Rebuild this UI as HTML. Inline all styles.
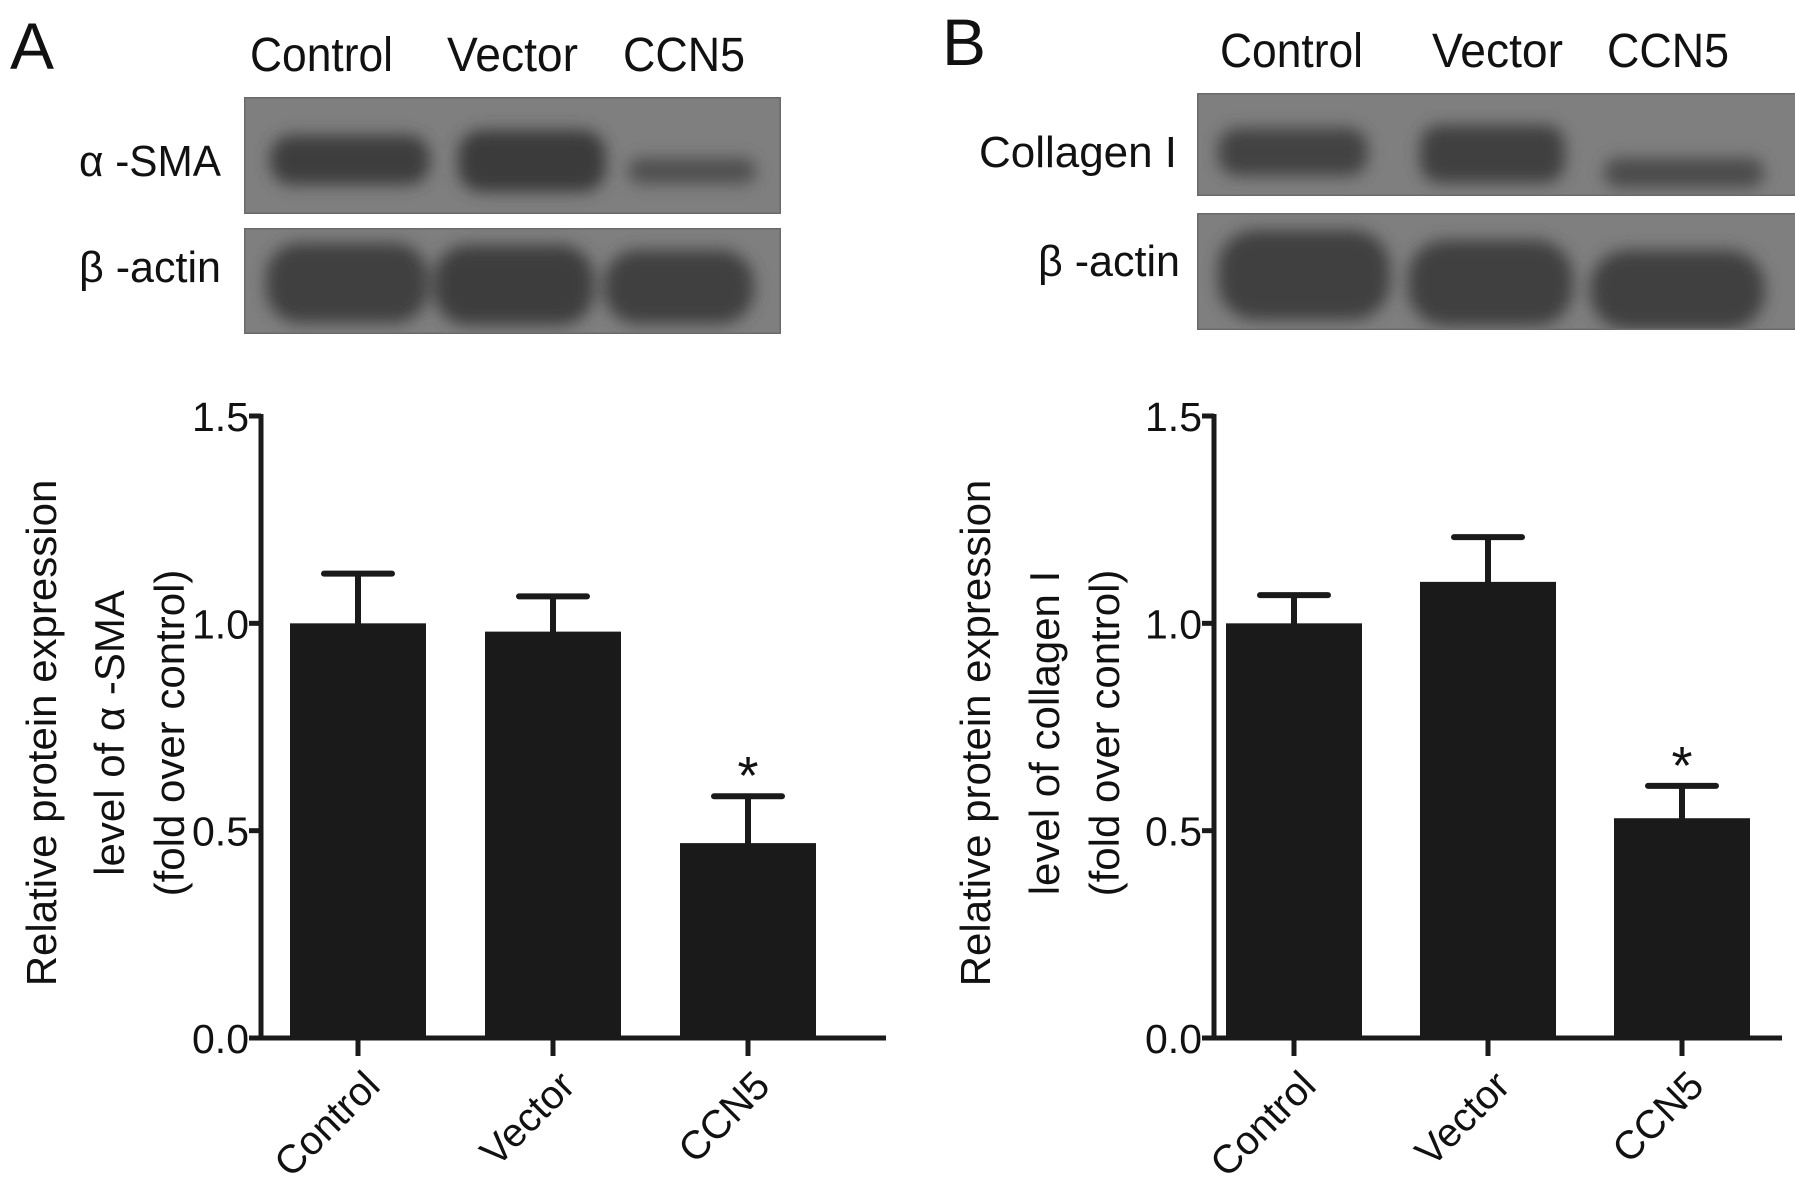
<!DOCTYPE html>
<html><head><meta charset="utf-8">
<style>
html,body{margin:0;padding:0;background:#fff;}
svg{display:block;font-family:"Liberation Sans",Arial,sans-serif;}
</style></head>
<body>
<svg id="fig" width="1795" height="1188" viewBox="0 0 1795 1188" xmlns="http://www.w3.org/2000/svg">
<defs>
<filter id="blur" x="-20%" y="-50%" width="140%" height="200%"><feGaussianBlur stdDeviation="8"/></filter>
<clipPath id="c1"><rect x="244" y="97" width="537" height="117"/></clipPath>
<clipPath id="c2"><rect x="244" y="228" width="537" height="106"/></clipPath>
<clipPath id="c3"><rect x="1197" y="93" width="600" height="103"/></clipPath>
<clipPath id="c4"><rect x="1197" y="213" width="600" height="117"/></clipPath>
</defs>
<g id="blots"></g>
<g id="chartA"></g>
<g id="chartB"></g>
</svg>
<script>
const categories = ["Control", "Vector", "CCN5"];
const valuesA = [1.0, 0.98, 0.47];
const errorsA = [0.12, 0.085, 0.113];
const sigA = [false, false, true];
const valuesB = [1.0, 1.10, 0.53];
const errorsB = [0.068, 0.108, 0.078];
const sigB = [false, false, true];
const yTicks = [0.0, 0.5, 1.0, 1.5];
const yTickLabels = ["0.0", "0.5", "1.0", "1.5"];

const NS = "http://www.w3.org/2000/svg";
function mk(tag, attrs, parent, text){
  const e = document.createElementNS(NS, tag);
  for (const k in attrs) e.setAttribute(k, attrs[k]);
  if (text !== undefined) e.textContent = text;
  parent.appendChild(e);
  return e;
}

function drawChart(g, cfg, values, errors, sig, titleLines, pfx){
  const y0 = 1038, y1 = 416, vmax = 1.5;
  const yScale = v => y0 - (v / vmax) * (y0 - y1);
  const band = cfg.bandW, barW = 136;
  const xCenter = i => cfg.axisX + cfg.firstCenter + i * band;
  values.forEach((v, i) => {
    const cx = xCenter(i);
    const r = mk("rect", {x: cx - barW/2, y: yScale(v), width: barW, height: y0 - yScale(v), fill: "#1a1a1a"}, g);
    
    
    const top = yScale(v + errors[i]);
    const eb = mk("path", {d: `M${cx} ${yScale(v)} V${top} M${cx-34} ${top} H${cx+34}`, stroke: "#1a1a1a", "stroke-width": 6, "stroke-linecap": "round", fill: "none"}, g);
    
    
    if (sig[i]) {
      const s = mk("text", {x: cx, y: top - 2, "text-anchor": "middle", "font-size": 54, fill: "#111"}, g, "*");
      
      
    }
    const tk = mk("line", {x1: cx, y1: y0, x2: cx, y2: 1056, stroke: "#1a1a1a", "stroke-width": 5}, g);
    
    
    const lx = cx + 24, ly = 1088;
    const t = mk("text", {x: lx, y: ly, "text-anchor": "end", "font-size": 40, fill: "#111", transform: `rotate(-45 ${lx} ${ly})`}, g, categories[i]);
    
    
  });
  const ya = mk("line", {x1: cfg.axisX, y1: y1 - 2, x2: cfg.axisX, y2: y0 + 2, stroke: "#1a1a1a", "stroke-width": 5}, g);
  
  
  const xa = mk("line", {x1: cfg.axisX - 2, y1: y0, x2: cfg.axisEnd, y2: y0, stroke: "#1a1a1a", "stroke-width": 5}, g);
  
  
  yTicks.forEach((v, i) => {
    const y = yScale(v);
    const tk = mk("line", {x1: cfg.axisX - 12, y1: y, x2: cfg.axisX, y2: y, stroke: "#1a1a1a", "stroke-width": 5}, g);
    
    
    const t = mk("text", {x: cfg.axisX - 12, y: y + 15, "text-anchor": "end", "font-size": 41, fill: "#111"}, g, yTickLabels[i]);
    
    
  });
  titleLines.forEach((line, i) => {
    const x = cfg.titleX[i], y = 733;
    const t = mk("text", {x: x, y: y, "text-anchor": "middle", "font-size": 42, fill: "#111", transform: `rotate(-90 ${x} ${y})`}, g, line);
    
    
  });
}

drawChart(document.getElementById("chartA"), {axisX: 261, axisEnd: 886, firstCenter: 97, bandW: 195, titleX: [56, 124, 184]},
  valuesA, errorsA, sigA, ["Relative protein expression", "level of α -SMA", "(fold over control)"], "a");
drawChart(document.getElementById("chartB"), {axisX: 1214, axisEnd: 1782, firstCenter: 80, bandW: 194, titleX: [990, 1059, 1119]},
  valuesB, errorsB, sigB, ["Relative protein expression", "level of collagen I", "(fold over control)"], "b");

const bl = document.getElementById("blots");
function txt(attrs, s, name){
  const t = mk("text", attrs, bl, s);
  
  
  return t;
}
function blot(x, y, w, h, clip, bands, name){
  const g = mk("g", {"clip-path": clip}, bl);
  
  
  mk("rect", {x: x, y: y, width: w, height: h, fill: "#7f7f7f"}, g);
  const inner = mk("g", {filter: "url(#blur)"}, g);
  bands.forEach(b => mk("rect", {x: b[0], y: b[1], width: b[2], height: b[3], rx: b[4], fill: b[5]}, inner));
  mk("rect", {x: x, y: y, width: w, height: h, fill: "none", stroke: "#6a6a6a", "stroke-width": 3}, g);
}
txt({x: 10, y: 69, "font-size": 66, fill: "#111"}, "A", "panel-label-a");
txt({x: 942, y: 65, "font-size": 66, fill: "#111"}, "B", "panel-label-b");
const lw = {Control: 143, Vector: 131, CCN5: 122};
[["Control", 250], ["Vector", 447], ["CCN5", 623]].forEach(a => txt({x: a[1], y: 71, "font-size": 48, fill: "#111", textLength: lw[a[0]], lengthAdjust: "spacingAndGlyphs"}, a[0], "lane-label-a-" + a[0].toLowerCase()));
[["Control", 1220], ["Vector", 1432], ["CCN5", 1607]].forEach(a => txt({x: a[1], y: 67, "font-size": 48, fill: "#111", textLength: lw[a[0]], lengthAdjust: "spacingAndGlyphs"}, a[0], "lane-label-b-" + a[0].toLowerCase()));
txt({x: 221, y: 176, "font-size": 44, "text-anchor": "end", fill: "#111", textLength: 142, lengthAdjust: "spacingAndGlyphs"}, "α -SMA", "blot-label-sma");
txt({x: 221, y: 282, "font-size": 44, "text-anchor": "end", fill: "#111", textLength: 142, lengthAdjust: "spacingAndGlyphs"}, "β -actin", "blot-label-actin-a");
txt({x: 1177, y: 167, "font-size": 44, "text-anchor": "end", fill: "#111", textLength: 198, lengthAdjust: "spacingAndGlyphs"}, "Collagen I", "blot-label-collagen");
txt({x: 1180, y: 276, "font-size": 44, "text-anchor": "end", fill: "#111", textLength: 142, lengthAdjust: "spacingAndGlyphs"}, "β -actin", "blot-label-actin-b");

blot(244, 97, 537, 117, "url(#c1)", [[270,135,160,50,22,"#3e3e3e"],[458,130,148,62,24,"#3b3b3b"],[628,158,128,26,12,"#505050"]], "blot-sma");
blot(244, 228, 537, 106, "url(#c2)", [[266,243,162,80,34,"#3f3f3f"],[434,245,160,80,34,"#3e3e3e"],[604,250,150,74,34,"#404040"]], "blot-actin-a");
blot(1197, 93, 600, 103, "url(#c3)", [[1218,128,150,48,20,"#434343"],[1420,125,145,58,20,"#404040"],[1604,158,160,30,14,"#4c4c4c"]], "blot-collagen");
blot(1197, 213, 600, 117, "url(#c4)", [[1218,230,172,90,38,"#3f3f3f"],[1408,240,165,86,38,"#3f3f3f"],[1590,250,175,80,38,"#414141"]], "blot-actin-b");
</script>
</body></html>
